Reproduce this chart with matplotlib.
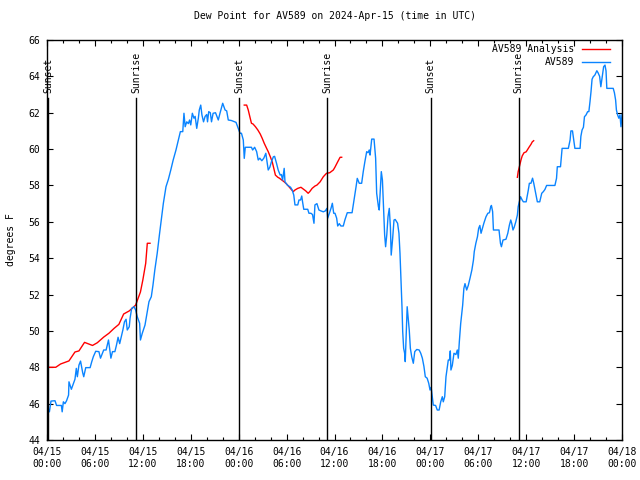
import pandas as pd
import matplotlib
matplotlib.use('Agg')
import matplotlib.pyplot as plt
import matplotlib.dates as mdates
import matplotlib.transforms as mtransforms

plt.rcParams['font.family'] = ['DejaVu Sans Mono']
plt.rcParams['font.size'] = 7

start = pd.Timestamp('2024-04-15 00:00')

# AV589 observations (hours after 04/15 00:00 UTC, dew point F)
obs_hours = [0.13, 0.3, 0.5, 1.0, 1.2, 1.8, 1.9, 2.05, 2.25, 2.45, 2.7, 2.75, 3.05, 3.5, 3.67, 3.8,
             4.0, 4.2, 4.47, 4.6, 4.85, 5.4, 5.6, 5.8, 6.1, 6.5, 6.7, 7.1, 7.4, 7.7, 8.0, 8.2,
             8.5, 8.7, 8.9, 9.1, 9.3, 9.5, 9.7, 9.9, 10.05, 10.3, 10.4, 10.6, 10.9, 11.1, 11.3, 11.6,
             11.7, 11.93, 12.27, 12.56, 12.77, 13.06, 13.27, 13.5, 13.8, 14.1, 14.57, 14.9, 15.2, 15.5,
             15.8, 16.15, 16.45, 16.7, 17.0, 17.15, 17.3, 17.5, 17.7, 17.85, 18.0, 18.2, 18.4, 18.55,
             18.75, 18.95, 19.07, 19.25, 19.4, 19.6, 19.8, 20.0, 20.1, 20.25, 20.45, 20.6, 20.8, 21.1,
             21.45, 21.66, 22.0, 22.3, 22.5, 22.7, 23.1, 23.67, 23.95, 24.17, 24.35, 24.58, 24.7, 24.83,
             25.6, 25.75, 26.0, 26.25, 26.45, 26.65, 26.9, 27.15, 27.4, 27.55, 27.7, 27.9, 28.1, 28.35,
             28.5, 28.75, 28.95, 29.2, 29.35, 29.5, 29.7, 29.8, 30.1, 30.5, 30.7, 30.9, 31.05, 31.4,
             31.55, 31.75, 31.9, 32.0, 32.15, 32.65, 32.8, 33.05, 33.25, 33.43, 33.55, 33.8, 34.05, 34.3,
             34.6, 34.85, 35.05, 35.15, 35.35, 35.56, 35.73, 35.9, 36.06, 36.27, 36.4, 36.6, 36.8, 37.1,
             37.3, 37.6, 38.2, 38.45, 38.7, 38.85, 39.1, 39.4, 39.6, 39.8, 40.03, 40.2, 40.35, 40.45,
             40.66, 40.95, 41.15, 41.28, 41.5, 41.6, 41.73, 41.86, 42.0, 42.16, 42.28, 42.4, 42.55, 42.7,
             42.86, 43.0, 43.1, 43.28, 43.45, 43.6, 43.78, 43.9, 44.07, 44.2, 44.33, 44.45, 44.54, 44.66,
             44.78, 44.86, 45.0, 45.1, 45.23, 45.36, 45.5, 45.67, 45.87, 46.05, 46.3, 46.6, 46.8, 47.0,
             47.2, 47.37, 47.6, 47.8, 47.96, 48.1, 48.25, 48.37, 48.66, 48.87, 49.1, 49.3, 49.5, 49.62,
             49.8, 49.96, 50.25, 50.4, 50.5, 50.58, 50.75, 50.96, 51.2, 51.38, 51.5, 51.63, 51.8, 52.05,
             52.2, 52.34, 52.55, 52.75, 52.97, 53.2, 53.4, 53.5, 53.7, 53.9, 54.05, 54.2, 54.35, 54.5,
             54.7, 54.97, 55.2, 55.4, 55.56, 55.65, 55.8, 55.9, 56.6, 56.78, 56.9, 57.1, 57.47, 57.7,
             57.9, 58.07, 58.2, 58.35, 58.5, 58.7, 58.9, 59.0, 59.14, 59.3, 59.5, 59.65, 60.0, 60.27,
             60.4, 60.6, 60.8, 60.95, 61.15, 61.4, 61.7, 61.95, 62.15, 62.35, 62.56, 63.6, 63.8, 63.9,
             64.3, 64.5, 65.28, 65.5, 65.6, 65.8, 65.95, 66.1, 66.75, 66.85, 67.0, 67.17, 67.3, 67.5,
             67.7, 67.85, 67.99, 68.12, 68.25, 68.4, 68.6, 68.85, 69.0, 69.2, 69.35, 69.5, 69.7, 69.87,
             70.0, 70.1, 70.9, 71.05, 71.2, 71.3, 71.45, 71.6, 71.75, 71.87, 72.0]
obs_dewpt = [45.74, 45.55, 46.14, 46.16, 45.9, 45.9, 45.55, 46.1, 46.0, 46.16, 46.47, 47.2, 46.79, 47.34, 47.94, 47.48,
             48.12, 48.34, 47.7, 47.48, 47.98, 47.98, 48.3, 48.58, 48.88, 48.86, 48.5, 48.95, 48.95, 49.5, 48.5, 48.86,
             48.86, 49.22, 49.65, 49.3, 49.68, 50.05, 50.5, 50.64, 50.05, 50.23, 50.69, 51.24, 51.33, 51.15, 50.78, 50.42,
             49.5, 49.87, 50.32, 51.06, 51.61, 51.88, 52.52, 53.35, 54.27, 55.37, 57.02, 57.93, 58.34, 58.85,
             59.4, 59.95, 60.5, 60.96, 60.96, 61.97, 61.23, 61.5, 61.4, 61.6, 61.33, 61.97, 61.7, 61.8,
             61.14, 61.7, 62.15, 62.42, 61.88, 61.5, 61.8, 61.9, 61.5, 62.06, 62.0, 61.5, 61.97, 62.0,
             61.6, 61.97, 62.52, 62.15, 62.1, 61.6, 61.57, 61.47, 61.14, 60.87, 60.87, 60.5, 59.49, 60.1,
             60.1, 59.95, 60.1, 59.86, 59.4, 59.5, 59.36, 59.5, 59.77, 59.3, 58.85, 59.0, 59.3, 59.58,
             59.6, 59.2, 58.85, 58.57, 58.6, 58.3, 58.94, 58.2, 58.02, 57.9, 57.75, 57.47, 56.93, 56.93,
             57.2, 57.2, 57.42, 57.1, 56.69, 56.69, 56.47, 56.47, 56.4, 55.92, 56.93, 57.0, 56.65, 56.6,
             56.55, 56.6, 56.74, 56.2, 56.47, 56.74, 57.02, 56.47, 56.47, 56.2, 55.77, 55.9, 55.77, 55.77,
             56.1, 56.5, 56.5, 57.2, 57.93, 58.39, 58.12, 58.12, 58.76, 59.3, 59.86, 59.8, 59.95, 59.67,
             60.55, 60.55, 59.5, 57.57, 56.83, 56.65, 57.7, 58.76, 58.3, 56.65, 55.27, 54.63, 55.3, 56.28,
             56.74, 55.7, 54.17, 55.08, 56.1, 56.13, 56.0, 55.92, 55.37, 54.27, 52.8, 51.33, 49.96, 49.04,
             48.78, 48.31, 50.05, 51.33, 50.7, 50.05, 49.04, 48.58, 48.22, 48.86, 48.98, 48.95, 48.77, 48.5,
             48.04, 47.48, 47.4, 47.12, 46.75, 46.9, 46.38, 45.92, 45.9, 45.65, 45.65, 46.1, 46.38, 46.1,
             46.38, 47.48, 48.4, 48.4, 48.9, 47.85, 48.1, 48.77, 48.7, 48.95, 48.5, 49.4, 50.4, 51.42,
             52.34, 52.6, 52.25, 52.5, 52.9, 53.35, 53.9, 54.36, 54.82, 55.18, 55.64, 55.8, 55.37, 55.6,
             55.92, 56.28, 56.47, 56.5, 56.83, 56.9, 56.56, 55.55, 55.55, 54.82, 54.63, 55.0, 55.04, 55.37,
             55.82, 56.1, 55.9, 55.55, 55.7, 56.0, 56.37, 56.83, 57.1, 57.38, 57.2, 57.1, 57.1, 57.75,
             58.12, 58.12, 58.4, 58.12, 57.66, 57.1, 57.1, 57.57, 57.66, 57.78, 58.0, 58.0, 58.39, 59.03,
             59.03, 60.04, 60.04, 60.5, 61.0, 61.0, 60.5, 60.04, 60.04, 60.7, 61.05, 61.2, 61.78, 61.88,
             62.06, 62.06, 62.6, 63.16, 63.84, 63.98, 64.07, 64.31, 64.2, 64.0, 63.43, 63.9, 64.53, 64.62,
             64.3, 63.34, 63.34, 63.1, 62.7, 62.15, 61.88, 61.7, 61.88, 61.23, 61.9]

# AV589 Analysis, three overnight pieces
ana1_hours = [0.1, 1.1, 1.7, 2.75, 3.5, 4.0, 4.7, 5.7, 6.3, 7.1, 7.75, 8.4, 9.0, 9.6, 10.3, 11.1,
              11.7, 12.0, 12.36, 12.56, 12.9]
ana1_dewpt = [48.0, 48.0, 48.18, 48.35, 48.84, 48.9, 49.37, 49.2, 49.35, 49.66, 49.87, 50.14, 50.36, 50.93, 51.1, 51.42,
              52.14, 52.8, 53.72, 54.82, 54.82]
ana2_hours = [24.7, 25.0, 25.2, 25.4, 25.6, 25.8, 26.1, 26.4, 26.7, 26.95, 27.2, 27.5, 27.7, 27.96, 28.2, 28.4,
              28.6, 28.9, 29.1, 29.4, 29.7, 30.0, 30.3, 30.55, 30.84, 31.05, 31.4, 31.8, 32.1, 32.4,
              32.7, 32.9, 33.2, 33.56, 33.8, 34.2, 34.6, 35.0, 35.4, 35.85, 36.05, 36.4, 36.7, 36.9]
ana2_dewpt = [62.42, 62.42, 62.15, 61.78, 61.42, 61.38, 61.23, 61.05, 60.83, 60.59, 60.32, 60.04, 59.86, 59.58, 59.3, 58.94,
              58.57, 58.45, 58.4, 58.3, 58.2, 58.08, 57.93, 57.8, 57.66, 57.75, 57.84, 57.9, 57.8, 57.7,
              57.57, 57.66, 57.84, 57.97, 58.02, 58.2, 58.48, 58.67, 58.7, 58.85, 59.0, 59.3, 59.55, 59.55]
ana3_hours = [58.9, 59.0, 59.2, 59.35, 59.5, 59.73, 60.0, 60.2, 60.4, 60.6, 60.77, 60.94]
ana3_dewpt = [58.45, 58.76, 59.12, 59.4, 59.62, 59.8, 59.85, 59.99, 60.13, 60.26, 60.4, 60.46]

# sunrise / sunset times (hours after start)
sun_hours = [0.15, 11.14, 24.03, 35.05, 48.06, 59.07]
sun_labels = ['Sunset', 'Sunrise', 'Sunset', 'Sunrise', 'Sunset', 'Sunrise']


def to_time(hours):
    return start + pd.to_timedelta(hours, unit='h')


fig = plt.figure(figsize=(6.4, 4.8), dpi=100)
ax = fig.add_axes([47 / 640, 40 / 480, 575 / 640, 400 / 480])

red = '#ff0000'
blue = '#0a84ff'
ax.plot(to_time(ana1_hours), ana1_dewpt, color=red, lw=1.0, label='AV589 Analysis')
ax.plot(to_time(ana2_hours), ana2_dewpt, color=red, lw=1.0)
ax.plot(to_time(ana3_hours), ana3_dewpt, color=red, lw=1.0)
ax.plot(to_time(obs_hours), obs_dewpt, color=blue, lw=1.0, label='AV589')

trans = mtransforms.blended_transform_factory(ax.transData, ax.transAxes)
for h, lab in zip(sun_hours, sun_labels):
    t = mdates.date2num(to_time(h))
    ax.axvline(t, ymin=0, ymax=0.855, color='black', lw=1.0)
    ax.text(t, 0.868, lab, transform=trans, rotation=90, ha='center', va='bottom')

ax.set_xlim(start, start + pd.Timedelta(hours=72))
ax.set_ylim(44, 66)
ax.set_yticks(range(44, 67, 2))
ax.xaxis.set_major_locator(mdates.HourLocator(byhour=[0, 6, 12, 18]))
ax.xaxis.set_minor_locator(mdates.HourLocator(interval=2))
ax.xaxis.set_major_formatter(mdates.DateFormatter('%m/%d\n%H:%M'))
ax.tick_params(which='both', direction='in', top=True, right=True, width=0.8)
ax.tick_params(which='major', length=4.5, pad=5)
ax.tick_params(which='minor', length=2.5)
for s in ax.spines.values():
    s.set_linewidth(1.0)

ax.set_title('Dew Point for AV589 on 2024-Apr-15 (time in UTC)', fontsize=7, pad=15)
ax.set_ylabel('degrees F', labelpad=9)

ax.legend(loc='upper right', bbox_to_anchor=(0.991, 1.006), markerfirst=False, frameon=False,
          handlelength=2.9, handletextpad=0.8, labelspacing=0.3, borderaxespad=0.3, fontsize=7)

fig.savefig('out.png', dpi=100)
